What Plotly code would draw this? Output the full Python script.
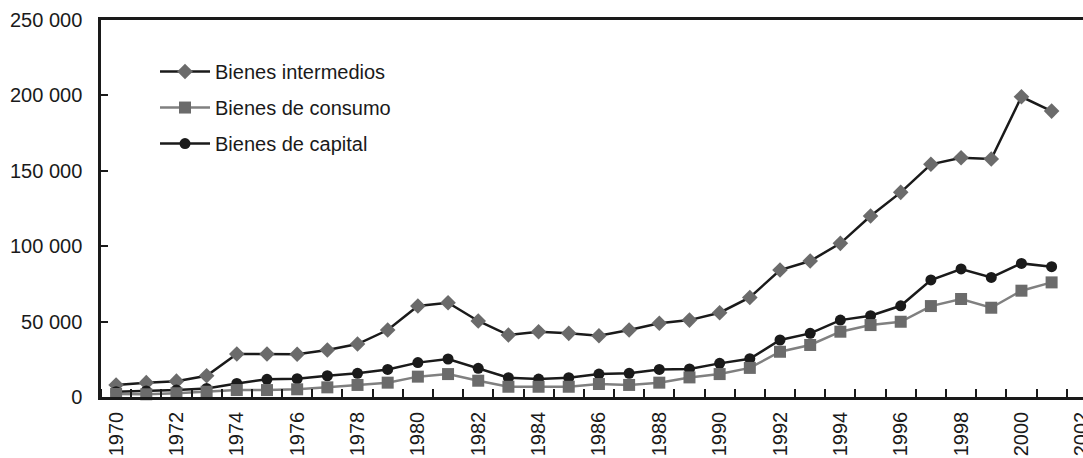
import plotly.graph_objects as go

years = list(range(1970, 2002))

intermedios = [8000, 9500, 10500, 14100, 28500, 28500, 28300, 31200, 35100, 44400,
               60300, 62500, 50400, 41100, 43300, 42200, 40600, 44400, 48900, 51000,
               55900, 66000, 84200, 90200, 101900, 120000, 135700, 154300, 158700, 157800,
               199100, 189600]
consumo = [2000, 1800, 2500, 3500, 4600, 4600, 5100, 6400, 8000, 9500,
           13500, 15200, 10800, 6800, 6800, 6800, 8600, 8000, 9500, 13000,
           15200, 19300, 30000, 34500, 43300, 47700, 49900, 60300, 65000, 59200,
           70500, 76000]
capital = [3500, 4000, 4600, 5700, 9000, 11700, 12100, 14100, 15700, 18300,
           22800, 25200, 19000, 12800, 11900, 12800, 15200, 15700, 18300, 18600,
           22300, 25400, 37800, 42200, 51000, 53900, 60500, 77600, 84900, 79300,
           88600, 86400]

names = ["Bienes intermedios", "Bienes de consumo", "Bienes de capital"]

y_tickvals = [0, 50000, 100000, 150000, 200000, 250000]
y_ticktext = ["0", "50 000", "100 000", "150 000", "200 000", "250 000"]
x_tickvals = list(range(1970, 2003, 2))
x_ticktext = [str(v) for v in x_tickvals]

TXT = "#1a1a1a"
FONT = "Liberation Sans, Arial, sans-serif"

fig = go.Figure()
fig.add_trace(go.Scatter(
    x=years, y=intermedios, name=names[0], mode="lines+markers",
    line=dict(color="#1a1a1a", width=2.5),
    marker=dict(symbol="diamond", size=12, color="#6b6b6b"),
    cliponaxis=False, legendrank=1, legendgroup="a"))
fig.add_trace(go.Scatter(
    x=years, y=capital, name=names[2], mode="lines+markers",
    line=dict(color="#1a1a1a", width=2.5),
    marker=dict(symbol="circle", size=11, color="#1a1a1a"),
    cliponaxis=False, legendrank=3, legendgroup="c"))
fig.add_trace(go.Scatter(
    x=years, y=consumo, name=names[1], mode="lines+markers",
    line=dict(color="#808080", width=2.5),
    marker=dict(symbol="square", size=12, color="#6b6b6b"),
    cliponaxis=False, legendrank=2, legendgroup="b"))

fig.update_layout(
    width=1083, height=458,
    margin=dict(l=101, r=0, t=20, b=61),
    paper_bgcolor="white", plot_bgcolor="white",
    font=dict(family=FONT, size=20, color=TXT),
    legend=dict(x=0.055, y=0.915, xanchor="left", yanchor="top",
                bgcolor="rgba(0,0,0,0)", font=dict(size=20, color=TXT),
                tracegroupgap=7, traceorder="grouped", itemwidth=50),
    xaxis=dict(range=[1969.5, 2002.04], tickvals=x_tickvals, ticktext=x_ticktext,
               tickangle=-90, ticks="", showgrid=False, zeroline=False,
               showline=True, linecolor="#1a1a1a", linewidth=2.5, mirror=True,
               ticklabelstandoff=4, automargin=False, ticklabeloverflow="allow",
               minor=dict(tick0=1969.5, dtick=1, ticks="inside", ticklen=8,
                          tickwidth=2, tickcolor="#1a1a1a", showgrid=False)),
    yaxis=dict(range=[0, 250000], tickvals=y_tickvals, ticktext=y_ticktext,
               ticks="inside", ticklen=7, tickwidth=2, tickcolor="#1a1a1a",
               showgrid=False, zeroline=False, showline=True, automargin=False,
               linecolor="#1a1a1a", linewidth=2.5, ticklabelstandoff=12),
)

fig.write_html("out.html", config={"displayModeBar": False},
               post_script="document.body.style.margin='0';document.body.style.overflow='hidden';")
